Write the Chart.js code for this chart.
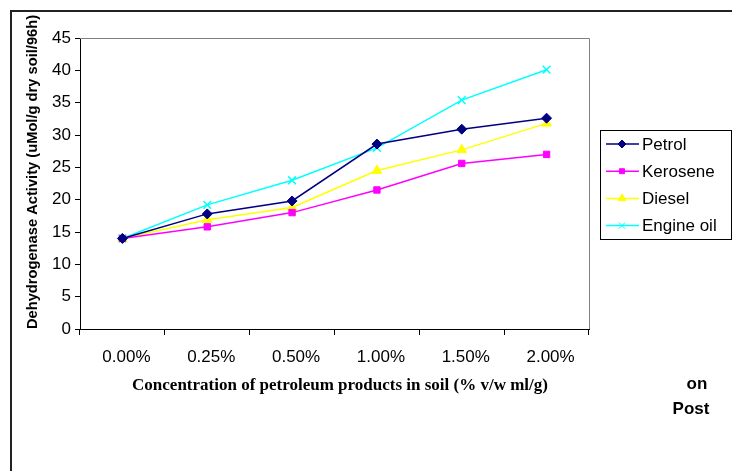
<!DOCTYPE html>
<html>
<head>
<meta charset="utf-8">
<script src="https://cdn.jsdelivr.net/npm/chart.js@4.4.1/dist/chart.umd.min.js"></script>
<style>
    html, body { margin: 0; padding: 0; background: #fff; }
    #wrap { width: 732px; height: 471px; position: relative; }
</style>
</head>
<body>
<div id="wrap"><canvas id="dhaChart" width="732" height="471"></canvas></div>
<script>
// Dehydrogenase activity vs. petroleum product concentration

const concentrations = ['0.00%', '0.25%', '0.50%', '1.00%', '1.50%', '2.00%'];
const petrol = [14.0, 17.8, 19.8, 28.6, 30.9, 32.6];
const kerosene = [14.0, 15.8, 18.0, 21.5, 25.6, 27.0];
const diesel = [14.0, 16.9, 18.8, 24.5, 27.7, 31.8];
const engineOil = [14.0, 19.2, 23.0, 28.0, 35.4, 40.1];
const yTicks = [0, 5, 10, 15, 20, 25, 30, 35, 40, 45];

const sans = "'Liberation Sans', Arial, sans-serif";
const serif = "'Liberation Serif', 'Times New Roman', serif";

// frame, axis titles, side text and a legend with line + marker samples
const decorPlugin = {
    id: 'decor',
    beforeDatasetsDraw(chart) {
        const { ctx, chartArea: a } = chart;
        ctx.save();
        ctx.strokeStyle = '#808080';
        ctx.lineWidth = 1;
        ctx.beginPath();
        ctx.moveTo(a.left, a.top + 0.5);
        ctx.lineTo(a.right + 0.5, a.top + 0.5);
        ctx.lineTo(a.right + 0.5, a.bottom);
        ctx.stroke();
        ctx.restore();
    },
    afterDraw(chart) {
        const { ctx } = chart;
        ctx.save();

        // outer frame (only top and left are visible)
        ctx.strokeStyle = '#222';
        ctx.lineWidth = 2;
        ctx.beginPath();
        ctx.moveTo(11, 471);
        ctx.lineTo(11, 11);
        ctx.lineTo(732, 11);
        ctx.stroke();

        // y title
        ctx.fillStyle = '#000';
        ctx.font = "bold 14.7px " + sans;
        ctx.textAlign = 'center';
        ctx.textBaseline = 'middle';
        ctx.translate(33, 172);
        ctx.rotate(-Math.PI / 2);
        ctx.fillText('Dehydrogenase Activity (uMol/g dry soil/96h)', 0, 0);
        ctx.setTransform(1, 0, 0, 1, 0, 0);

        // x title
        ctx.font = "bold 17px " + serif;
        ctx.fillText('Concentration of petroleum products in soil (% v/w ml/g)', 340, 386);

        // clipped side text
        ctx.font = "bold 17px " + sans;
        ctx.fillText('on', 697, 384);
        ctx.fillText('Post', 691, 409);

        // legend
        ctx.strokeStyle = '#000';
        ctx.lineWidth = 1;
        ctx.strokeRect(600.5, 130.5, 131, 109);
        ctx.font = "17px " + sans;
        ctx.textAlign = 'left';
        chart.data.datasets.forEach((ds, i) => {
            const y = 144 + i * 27.2;
            ctx.strokeStyle = ds.borderColor;
            ctx.fillStyle = ds.borderColor;
            ctx.lineWidth = 1.5;
            ctx.beginPath();
            ctx.moveTo(606, y);
            ctx.lineTo(639, y);
            ctx.stroke();
            ctx.lineWidth = 1;
            Chart.helpers.drawPoint(ctx, {
                pointStyle: ds.pointStyle,
                radius: ds.legendRadius,
                rotation: 0,
                borderWidth: 1
            }, 622, y);
            ctx.fillStyle = '#000';
            ctx.fillText(ds.label, 642, y + 1);
        });
        ctx.restore();
    }
};

function series(label, data, color, style, radius, legendRadius) {
    return {
        label: label,
        data: data,
        borderColor: color,
        backgroundColor: color,
        pointBackgroundColor: color,
        pointBorderColor: color,
        borderWidth: 1.5,
        pointStyle: style,
        pointRadius: radius,
        legendRadius: legendRadius,
        pointBorderWidth: style === 'crossRot' ? 1.5 : 1,
        tension: 0,
        fill: false
    };
}

new Chart(document.getElementById('dhaChart'), {
    type: 'line',
    data: {
        labels: concentrations,
        datasets: [
            series('Petrol', petrol, '#000080', 'rectRot', 5, 4),
            series('Kerosene', kerosene, '#FF00FF', 'rect', 4.5, 3.5),
            series('Diesel', diesel, '#FFFF00', 'triangle', 5.5, 4.5),
            series('Engine oil', engineOil, '#00FFFF', 'crossRot', 5.5, 4.5)
        ]
    },
    options: {
        responsive: false,
        animation: false,
        layout: { padding: { left: 0, top: 38, right: 143, bottom: 92 } },
        plugins: {
            legend: { display: false },
            tooltip: { enabled: false }
        },
        scales: {
            x: {
                offset: true,
                grid: {
                    offset: true,
                    drawOnChartArea: false,
                    color: '#000',
                    tickLength: 6
                },
                border: { color: '#000', width: 1 },
                ticks: {
                    color: '#000',
                    font: { family: sans, size: 17 },
                    padding: 12,
                    labelOffset: 4,
                    maxRotation: 0
                },
                afterFit(scale) { scale.height = 50; }
            },
            y: {
                min: 0,
                max: 45,
                afterBuildTicks(scale) {
                    scale.ticks = yTicks.map(v => ({ value: v }));
                },
                grid: {
                    drawOnChartArea: false,
                    color: '#000',
                    tickLength: 5
                },
                border: { color: '#000', width: 1 },
                ticks: {
                    color: '#000',
                    font: { family: sans, size: 17 },
                    padding: 4
                },
                afterFit(scale) { scale.width = 80; }
            }
        }
    },
    plugins: [decorPlugin]
});
</script>
</body>
</html>
